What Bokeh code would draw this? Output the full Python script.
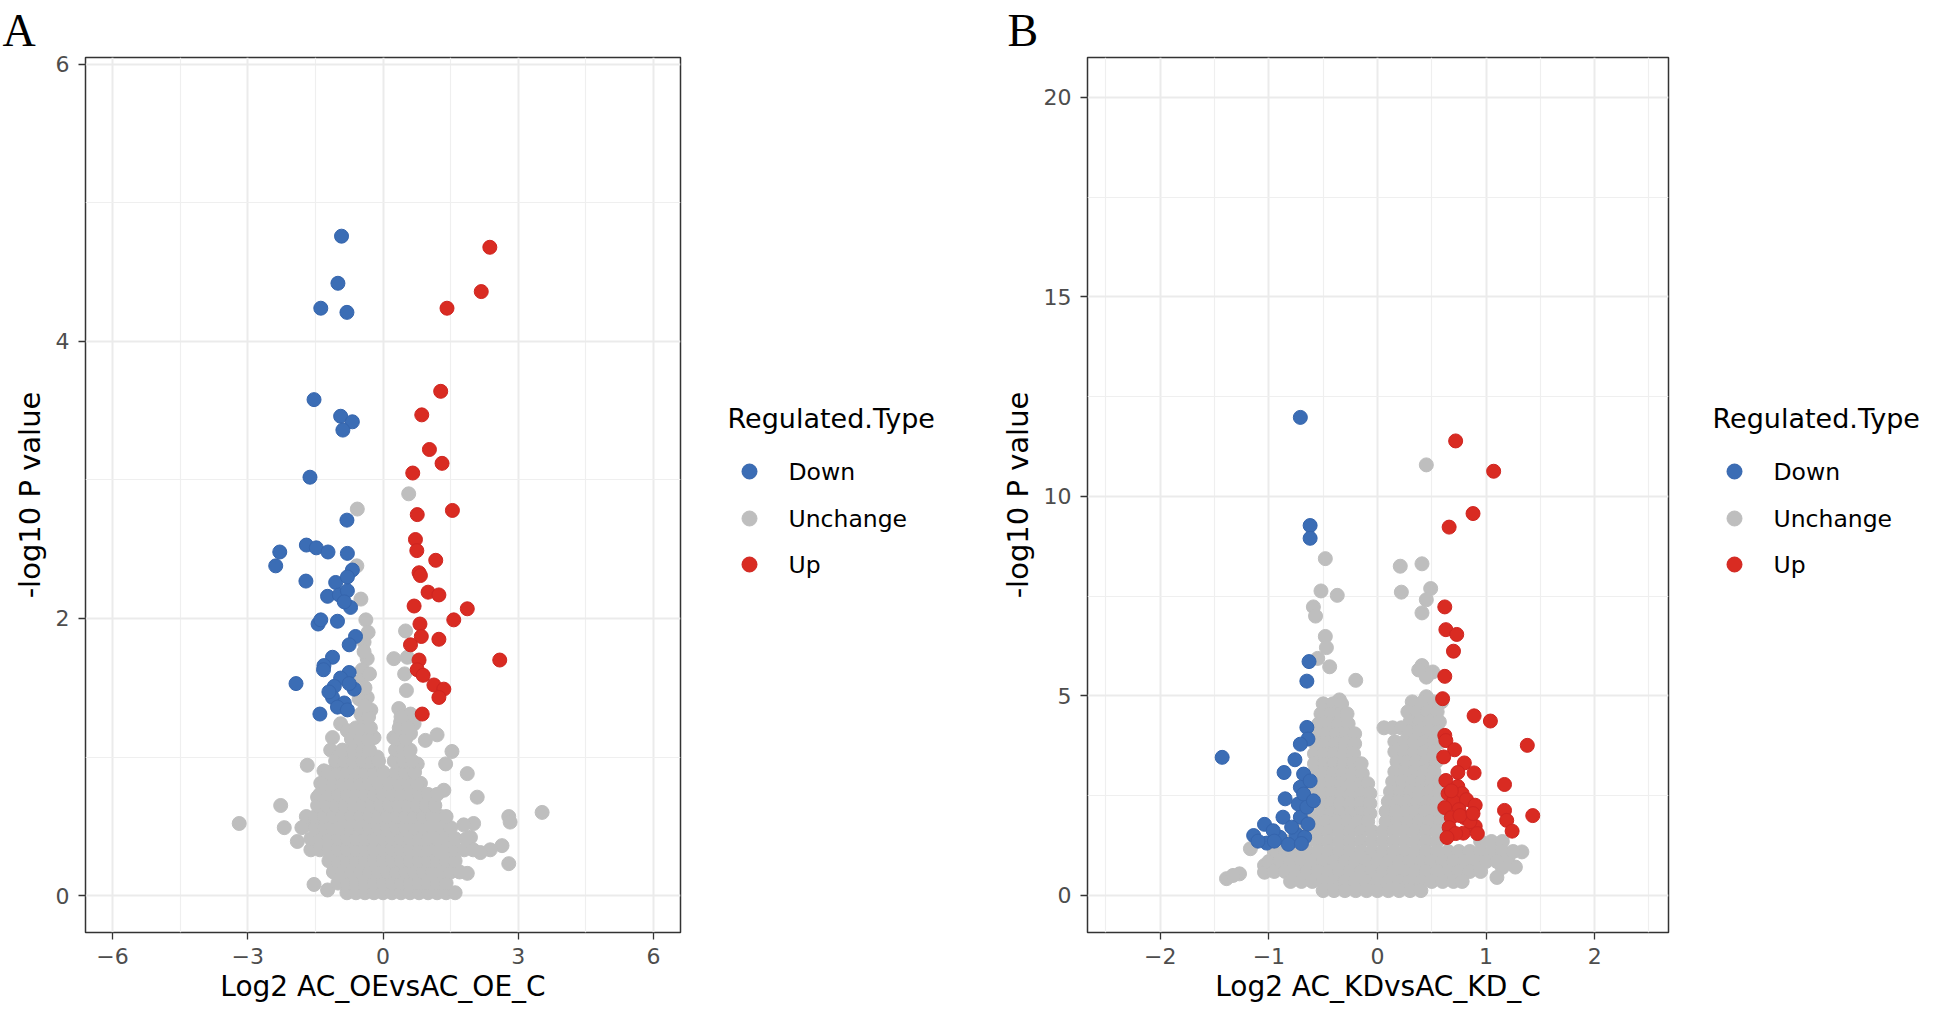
from bokeh.plotting import figure
from bokeh.layouts import row
from bokeh.models import FixedTicker, Range1d
from bokeh.core.properties import value
from bokeh.embed import file_html
from bokeh.resources import INLINE

# ---------------- data: panel A (AC_OE vs AC_OE_C) ----------------
down_a_x = [-0.92, -1.00, -1.38, -0.80, -1.53, -0.94, -0.68, -0.89, -1.62, -0.80, -2.29, -2.38,
            -1.70, -1.48, -1.22, -0.79, -0.68, -1.71, -1.05, -0.79, -1.23, -0.97, -0.79, -0.72,
            -0.86, -1.44, -1.38, -1.01, -0.61, -0.75, -1.12, -1.31, -1.32, -1.93, -0.75, -0.94,
            -1.08, -1.12, -0.86, -0.64, -1.01, -1.40, -0.79, -0.75, -1.20]
down_a_y = [4.76, 4.42, 4.24, 4.21, 3.58, 3.46, 3.42, 3.36, 3.02, 2.71, 2.48, 2.38,
            2.53, 2.51, 2.48, 2.47, 2.35, 2.27, 2.26, 2.30, 2.16, 2.17, 2.20, 2.08,
            2.12, 1.96, 1.99, 1.98, 1.87, 1.81, 1.72, 1.66, 1.63, 1.53, 1.61, 1.57,
            1.51, 1.43, 1.39, 1.49, 1.36, 1.31, 1.34, 1.53, 1.47]
up_a_x = [2.37, 2.18, 1.42, 1.28, 0.86, 1.03, 1.31, 0.66, 0.76, 1.54, 0.72, 0.75, 1.17, 0.80,
          0.83, 1.00, 1.24, 0.69, 1.87, 1.57, 0.82, 0.85, 1.24, 0.61, 2.59, 0.80, 0.76, 0.89,
          1.13, 1.35, 1.24, 0.87]
up_a_y = [4.68, 4.36, 4.24, 3.64, 3.47, 3.22, 3.12, 3.05, 2.75, 2.78, 2.57, 2.49, 2.42, 2.33,
          2.31, 2.19, 2.17, 2.09, 2.07, 1.99, 1.96, 1.87, 1.85, 1.81, 1.70, 1.70, 1.63, 1.59,
          1.52, 1.49, 1.43, 1.31]
unch_a_x = [0.57, -0.57, -0.58, -0.49, -0.38, -0.42, -0.35, -0.46, -0.49, -0.35, -0.53, -0.27,
            -0.49, 0.50, 0.24, 0.54, 0.48, 0.52, 0.35, 0.61, 0.39, 0.69, 0.24, 0.32, 0.61, 0.94,
            1.20, 1.53, 1.39, 1.87, 2.09, 2.79, 2.82, 2.01, 1.79, 1.94, 2.64, 2.79, 2.38, 2.16,
            1.87, 1.28, 1.35, 1.02, 0.76, 0.83, 0.10, 3.53, -3.19, -2.27, -2.19, -1.90, -1.71,
            -1.60, -1.53, -1.23, -1.68, -1.31, -1.08, -1.38, -1.45, -0.94, -0.79, -0.35, -0.20,
            -1.12, -1.16, -1.01, -0.72, -0.13, -0.40, -0.30, -0.42, -0.33]
unch_a_y = [2.90, 2.79, 2.38, 2.14, 1.99, 1.83, 1.71, 1.63, 1.55, 1.43, 1.42, 1.34,
            1.31, 1.91, 1.71, 1.72, 1.60, 1.48, 1.35, 1.31, 1.25, 1.24, 1.14, 1.05, 1.17, 1.12,
            1.16, 1.04, 0.95, 0.88, 0.71, 0.57, 0.53, 0.52, 0.51, 0.42, 0.36, 0.23, 0.33, 0.31,
            0.16, 0.57, 0.76, 0.67, 0.95, 0.81, 0.86, 0.60, 0.52, 0.65, 0.49, 0.39, 0.51,
            0.33, 0.08, 0.04, 0.94, 0.90, 0.86, 0.81, 0.71, 1.24, 1.19, 1.22, 1.14,
            1.14, 1.05, 1.00, 1.05, 1.00, 1.50, 1.60, 1.76, 1.90]
# dense core of the unchanged cloud, row by row: (-log10 P, [log2 FC ...])
unch_a_rows = [
    (0.02, [-0.8, -0.6, -0.4, -0.2, 0.0, 0.2, 0.4, 0.6, 0.8, 1.0, 1.2, 1.4, 1.6]),
    (0.09, [-1.0, -0.8, -0.6, -0.4, -0.2, 0.0, 0.2, 0.4, 0.6, 0.8, 1.0, 1.2, 1.4]),
    (0.17, [-1.1, -0.9, -0.7, -0.5, -0.3, -0.1, 0.1, 0.3, 0.5, 0.7, 0.9, 1.1, 1.3, 1.5, 1.7]),
    (0.25, [-1.2, -1.0, -0.8, -0.6, -0.4, -0.2, 0.0, 0.2, 0.4, 0.6, 0.8, 1.0, 1.2, 1.4, 1.6]),
    (0.33, [-1.4, -1.2, -1.0, -0.8, -0.6, -0.4, -0.2, 0.0, 0.2, 0.4, 0.6, 0.8, 1.0, 1.2, 1.4, 1.6, 1.8, 2.0]),
    (0.41, [-1.6, -1.4, -1.2, -1.0, -0.8, -0.6, -0.4, -0.2, 0.0, 0.2, 0.4, 0.6, 0.8, 1.0, 1.2, 1.4, 1.6, 1.85]),
    (0.49, [-1.8, -1.5, -1.3, -1.1, -0.9, -0.7, -0.5, -0.3, -0.1, 0.1, 0.3, 0.5, 0.7, 0.9, 1.1, 1.3, 1.5]),
    (0.57, [-1.7, -1.5, -1.3, -1.1, -0.9, -0.7, -0.5, -0.3, -0.1, 0.1, 0.3, 0.5, 0.7, 0.9, 1.1, 1.4]),
    (0.65, [-1.45, -1.25, -1.05, -0.85, -0.65, -0.45, -0.25, -0.05, 0.15, 0.35, 0.55, 0.75, 0.95, 1.15]),
    (0.73, [-1.4, -1.2, -1.0, -0.8, -0.6, -0.4, -0.2, 0.0, 0.2, 0.4, 0.6, 0.8, 1.0, 1.2]),
    (0.81, [-1.3, -1.1, -0.9, -0.7, -0.5, -0.3, -0.1, 0.15, 0.35, 0.55, 0.75]),
    (0.89, [-1.2, -1.0, -0.8, -0.6, -0.4, -0.2, 0.0, 0.3, 0.5, 0.7]),
    (0.97, [-1.05, -0.85, -0.65, -0.45, -0.25, -0.1, 0.25, 0.45, 0.65]),
    (1.05, [-0.9, -0.65, -0.45, -0.3, 0.28, 0.45, 0.6]),
    (1.13, [-0.7, -0.5, -0.33, 0.3, 0.5]),
    (1.21, [-0.6, -0.42, -0.28, 0.36, 0.55]),
    (1.29, [-0.45, -0.32, 0.4]),
    (1.37, [-0.4]),
]

# ---------------- data: panel B (AC_KD vs AC_KD_C) ----------------
down_b_x = [-0.71, -0.62, -0.62, -0.63, -0.65, -0.65, -0.64, -0.71, -0.76, -0.86, -0.68, -1.43,
            -0.85, -0.71, -0.73, -0.87, -0.71, -1.04, -1.14, -1.02, -0.90, -0.75, -0.67, -0.68,
            -0.65, -0.64, -0.79, -0.96, -0.59, -0.62, -1.10, -0.95, -0.82, -0.70]
down_b_y = [11.98, 9.27, 8.95, 5.86, 5.37, 4.21, 3.92, 3.79, 3.40, 3.08, 3.04, 3.46,
            2.42, 2.71, 2.29, 1.96, 1.96, 1.78, 1.50, 1.31, 1.46, 1.54, 1.46, 2.54,
            2.21, 1.79, 1.71, 1.62, 2.37, 2.87, 1.36, 1.36, 1.28, 1.30]
up_b_x = [0.72, 1.07, 0.88, 0.66, 0.62, 0.63, 0.73, 0.70, 0.62, 0.60, 0.89, 1.04, 0.62, 0.63,
          1.38, 0.71, 0.61, 0.80, 0.89, 0.74, 1.17, 0.63, 0.74, 0.65, 0.78, 0.70, 0.82, 0.90,
          0.62, 0.75, 1.17, 1.43, 1.19, 1.24, 0.79, 0.90, 0.68, 0.80, 0.66, 0.85, 0.72, 0.92,
          0.76, 0.68, 0.88, 0.64]
up_b_y = [11.39, 10.63, 9.57, 9.23, 7.23, 6.66, 6.54, 6.12, 5.49, 4.93, 4.50, 4.37, 4.01, 3.88,
          3.76, 3.65, 3.47, 3.32, 3.07, 3.08, 2.78, 2.88, 2.73, 2.55, 2.55, 2.35, 2.40, 2.26,
          2.20, 2.15, 2.13, 2.00, 1.88, 1.61, 1.56, 1.73, 1.95, 1.95, 1.70, 1.85, 1.55, 1.55,
          2.00, 2.62, 2.05, 1.45]
unch_b_x = [0.45, -0.48, 0.21, 0.41, -0.52, -0.37, 0.22, 0.49, 0.45, 0.41, -0.59, -0.57, -0.48,
            -0.47, -0.55, -0.44, -0.20, 0.41, 0.51, 0.45, 0.38, -1.17, -1.04, -1.04, -1.39,
            -1.27, -1.33, 1.33, 1.27, 1.20, 1.15, 1.10, -0.35, 0.45]
unch_b_y = [10.79, 8.44, 8.25, 8.31, 7.63, 7.52, 7.60, 7.69, 7.41, 7.08, 7.23, 7.00, 6.49,
            6.21, 5.94, 5.73, 5.39, 5.76, 5.60, 5.47, 5.65, 1.17, 0.75, 0.58, 0.42,
            0.54, 0.50, 1.09, 0.71, 0.95, 0.70, 0.45, 4.90, 4.98]
unch_b_rows = [
    (4.80, [-0.50, -0.41, -0.33]),
    (4.55, [-0.52, -0.43, -0.34, -0.28]),
    (4.30, [-0.54, -0.45, -0.36, -0.27]),
    (4.05, [-0.56, -0.47, -0.38, -0.29, -0.21]),
    (3.80, [-0.57, -0.48, -0.39, -0.30, -0.21]),
    (3.55, [-0.58, -0.49, -0.40, -0.31, -0.22]),
    (3.30, [-0.58, -0.49, -0.40, -0.31, -0.22, -0.15]),
    (3.05, [-0.59, -0.50, -0.41, -0.32, -0.23, -0.14]),
    (2.80, [-0.60, -0.51, -0.42, -0.33, -0.24, -0.15, -0.09]),
    (2.55, [-0.60, -0.51, -0.42, -0.33, -0.24, -0.15, -0.07]),
    (2.30, [-0.61, -0.52, -0.43, -0.34, -0.25, -0.16, -0.07]),
    (2.05, [-0.61, -0.52, -0.43, -0.34, -0.25, -0.16, -0.07]),
    (4.85, [0.32, 0.42, 0.52, 0.59]),
    (4.60, [0.28, 0.37, 0.46, 0.55]),
    (4.35, [0.30, 0.39, 0.48, 0.57]),
    (4.20, [0.06, 0.14, 0.22]),
    (4.10, [0.29, 0.38, 0.47, 0.56]),
    (3.85, [0.16, 0.25, 0.34, 0.43, 0.52, 0.58]),
    (3.60, [0.16, 0.25, 0.34, 0.43, 0.52]),
    (3.35, [0.18, 0.27, 0.36, 0.45, 0.54]),
    (3.10, [0.16, 0.25, 0.34, 0.43, 0.52]),
    (2.85, [0.14, 0.23, 0.32, 0.41, 0.50, 0.57]),
    (2.60, [0.12, 0.21, 0.30, 0.39, 0.48, 0.57]),
    (2.35, [0.10, 0.19, 0.28, 0.37, 0.46, 0.55]),
    (2.10, [0.08, 0.17, 0.26, 0.35, 0.44, 0.53, 0.60]),
    (1.85, [-0.68, -0.58, -0.48, -0.38, -0.28, -0.18, -0.09, 0.08, 0.18, 0.28, 0.38, 0.48, 0.58]),
    (1.60, [-0.75, -0.65, -0.55, -0.45, -0.35, -0.25, -0.15, -0.05, 0.05, 0.15, 0.25, 0.35, 0.45, 0.55]),
    (1.35, [-0.85, -0.75, -0.65, -0.55, -0.45, -0.35, -0.25, -0.15, -0.05, 0.05, 0.15, 0.25, 0.35,
            0.45, 0.55, 0.95, 1.05, 1.15]),
    (1.10, [-0.95, -0.85, -0.75, -0.65, -0.55, -0.45, -0.35, -0.25, -0.15, -0.05, 0.05, 0.15, 0.25,
            0.35, 0.45, 0.55, 0.65, 0.75, 0.85, 0.95, 1.05, 1.15, 1.25]),
    (0.85, [-1.00, -0.90, -0.80, -0.70, -0.60, -0.50, -0.40, -0.30, -0.20, -0.10, 0.00, 0.10, 0.20,
            0.30, 0.40, 0.50, 0.60, 0.70, 0.80, 0.90, 1.00, 1.10]),
    (0.60, [-0.95, -0.85, -0.75, -0.65, -0.55, -0.45, -0.35, -0.25, -0.15, -0.05, 0.05, 0.15, 0.25,
            0.35, 0.45, 0.55, 0.65, 0.75, 0.85, 0.95]),
    (0.35, [-0.80, -0.70, -0.60, -0.50, -0.40, -0.30, -0.20, -0.10, 0.00, 0.10, 0.20, 0.30, 0.40,
            0.50, 0.60, 0.70, 0.78]),
    (0.12, [-0.50, -0.40, -0.30, -0.20, -0.10, 0.00, 0.10, 0.20, 0.30, 0.40]),
]

# ---------------- axes / labels ----------------
a_xticks = [-6, -3, 0, 3, 6]
a_xminor = [-4.5, -1.5, 1.5, 4.5]
a_yticks = [0, 2, 4, 6]
a_yminor = [1, 3, 5]
b_xticks = [-2, -1, 0, 1, 2]
b_xminor = [-2.5, -1.5, -0.5, 0.5, 1.5, 2.5]
b_yticks = [0, 5, 10, 15, 20]
b_yminor = [2.5, 7.5, 12.5, 17.5]
categories = ["Down", "Unchange", "Up"]
legend_title = "Regulated.Type"
panel_letters = ["A", "B"]

BLUE = "#3B6DB5"
GREY = "#BEBEBE"
RED = "#D92B22"
EDGE = {"Down": "#3565AD", "Unchange": GREY, "Up": "#CF2520"}
FILL = {"Down": BLUE, "Unchange": GREY, "Up": RED}
FONT = "DejaVu Sans"

H = 1010          # figure height
TOP = 57          # border above the plot frame (holds the panel letter)
BOTTOM = 78       # border below the plot frame
FRAME_H = H - TOP - BOTTOM


def flatten(extra_x, extra_y, rows):
    xs = list(extra_x)
    ys = list(extra_y)
    for yv, row_x in rows:
        for xv in row_x:
            xs.append(xv)
            ys.append(yv)
    return xs, ys


def panel(letter, letter_offset, xr, yr, xt, xm, yt, ym, xlabel, width, mbl, down, unch, up):
    p = figure(width=width, height=H, x_range=Range1d(*xr), y_range=Range1d(*yr),
               output_backend="svg", toolbar_location=None,
               min_border_left=mbl, min_border_right=2,
               min_border_top=TOP, min_border_bottom=BOTTOM,
               background_fill_color="white", border_fill_color="white")
    p.title.text = letter
    p.title.text_font = "Liberation Serif"
    p.title.text_font_size = "46px"
    p.title.text_font_style = "normal"
    p.title.text_color = "#000000"
    p.title.align = "left"
    p.title.offset = letter_offset
    p.title.standoff = 4

    xtick = FixedTicker(ticks=xt, minor_ticks=xm)
    ytick = FixedTicker(ticks=yt, minor_ticks=ym)
    p.xaxis.ticker = xtick
    p.yaxis.ticker = ytick
    p.xgrid.ticker = xtick
    p.ygrid.ticker = ytick
    for g in (p.xgrid, p.ygrid):
        g.grid_line_color = "#EBEBEB"
        g.grid_line_width = 2
        g.minor_grid_line_color = "#EFEFEF"
        g.minor_grid_line_width = 1.2
    p.outline_line_color = "#333333"
    p.outline_line_width = 1.5
    for ax in (p.xaxis, p.yaxis):
        ax.axis_line_color = None
        ax.major_tick_line_color = "#333333"
        ax.major_tick_line_width = 1.3
        ax.major_tick_out = 7
        ax.major_tick_in = 0
        ax.minor_tick_out = 0
        ax.minor_tick_in = 0
        ax.major_label_text_font = FONT
        ax.major_label_text_font_size = "22px"
        ax.major_label_text_color = "#4D4D4D"
        ax.axis_label_text_font = FONT
        ax.axis_label_text_font_style = "normal"
        ax.axis_label_text_color = "#000000"
    p.xaxis.axis_label = xlabel
    p.xaxis.axis_label_text_font_size = "28px"
    p.xaxis.major_label_standoff = 8
    p.xaxis.axis_label_standoff = 3
    p.yaxis.axis_label = "-log10 P value"
    p.yaxis.axis_label_text_font_size = "29px"
    p.yaxis.major_label_standoff = 9
    p.yaxis.axis_label_standoff = 6

    ux, uy = unch
    p.scatter(ux, uy, size=14, fill_color=GREY, line_color=GREY, line_width=1)
    p.scatter(down[0], down[1], size=14, fill_color=BLUE, line_color=EDGE["Down"], line_width=1)
    p.scatter(up[0], up[1], size=14, fill_color=RED, line_color=EDGE["Up"], line_width=1)
    return p


def legend_fig(width, x0):
    # blank companion figure; its frame lines up with the plot frame,
    # y is measured in pixels downward from the frame top
    f = figure(width=width, height=H, x_range=Range1d(0, width), y_range=Range1d(FRAME_H, 0),
               output_backend="svg", toolbar_location=None,
               x_axis_location=None, y_axis_location=None,
               min_border_left=0, min_border_right=0,
               min_border_top=TOP, min_border_bottom=BOTTOM,
               background_fill_color="white", border_fill_color="white")
    f.grid.visible = False
    f.outline_line_color = None
    title_y = 361
    item_y = [414, 461, 507]
    f.text(x=[x0], y=[title_y], text=[legend_title], text_font=value(FONT),
           text_font_size=value("27px"), text_baseline="middle", text_align="left",
           text_color="#000000")
    f.scatter(x=[x0 + 22] * 3, y=item_y, size=15, line_width=1,
              fill_color=[FILL[c] for c in categories], line_color=[EDGE[c] for c in categories])
    f.text(x=[x0 + 61] * 3, y=item_y, text=categories, text_font=value(FONT),
           text_font_size=value("23.5px"), text_baseline="middle", text_align="left",
           text_color="#000000")
    return f


pa = panel(panel_letters[0], -83, (-6.6, 6.6), (-0.267, 6.05), a_xticks, a_xminor,
           a_yticks, a_yminor, "Log2 AC_OEvsAC_OE_C", 682, 85,
           (down_a_x, down_a_y), flatten(unch_a_x, unch_a_y, unch_a_rows), (up_a_x, up_a_y))
pb = panel(panel_letters[1], -80, (-2.67, 2.68), (-0.93, 21.0), b_xticks, b_xminor,
           b_yticks, b_yminor, "Log2 AC_KDvsAC_KD_C", 673, 90,
           (down_b_x, down_b_y), flatten(unch_b_x, unch_b_y, unch_b_rows), (up_b_x, up_b_y))
la = legend_fig(315, 45)
lb = legend_fig(274, 42)

layout = row(pa, la, pb, lb, spacing=0)
open("out.html", "w").write(file_html(layout, INLINE))
